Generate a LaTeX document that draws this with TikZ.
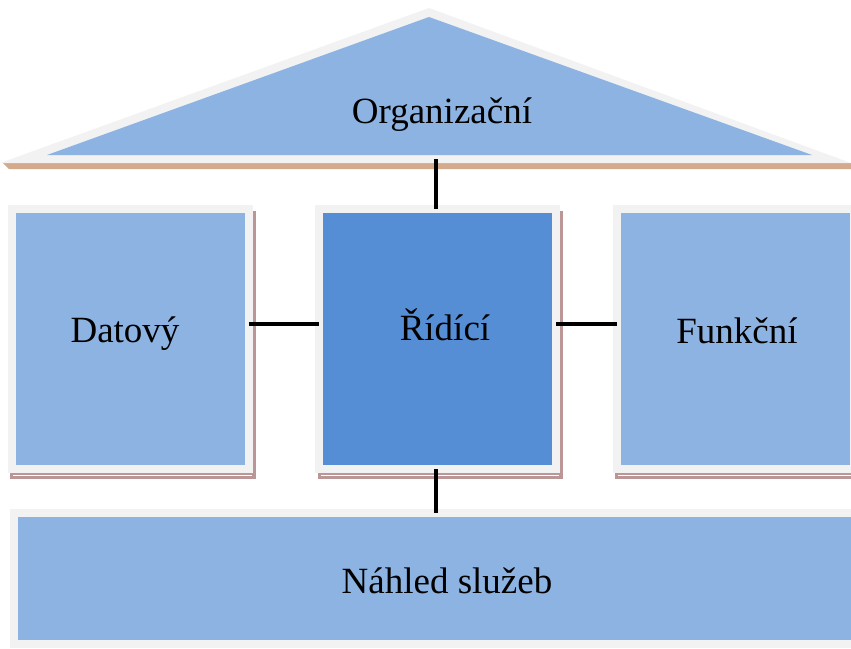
\documentclass[tikz,border=0pt]{standalone}
\usepackage{fontspec}
\setmainfont{Liberation Serif}
\definecolor{paleBlue}{HTML}{8DB3E2}
\definecolor{midBlue}{HTML}{558ED5}
\definecolor{frameGray}{HTML}{F2F2F2}
\definecolor{roofShadow}{HTML}{D3AA8C}
\definecolor{boxShadow}{HTML}{BA9696}
\tikzset{
  block/.style={rectangle, fill=paleBlue, draw=frameGray, line width=8pt,
    inner sep=0pt, outer sep=0pt},
  core/.style={block, fill=midBlue},
  lbl/.style={anchor=base, inner sep=0pt, font=\fontsize{37}{44}\selectfont},
  link/.style={draw=black, line width=4pt},
}
\begin{document}
\begin{tikzpicture}[x=1pt,y=-1pt]
\useasboundingbox (0,0) rectangle (851,648);

% roof: shadow band, light frame and blue triangle
\fill[roofShadow] (3,163) -- (851,163) -- (851,169) -- (9,169) -- cycle;
\fill[frameGray] (0,163) -- (429,8) -- (851,163) -- cycle;
\fill[paleBlue] (47,155) -- (429,17) -- (812,155) -- cycle;
\coordinate (roofbase) at (436,159);
\node[lbl] (torg) at (442,123) {Organizační};

% drop shadows behind the three pillars
\fill[boxShadow] (10,211) rectangle (256,479);
\fill[boxShadow] (318,211) rectangle (563,479);
\fill[boxShadow] (615,211) rectangle (855,479);
\draw[white, line width=0.6pt] (13,475.5) -- (252,475.5);
\draw[white, line width=0.6pt] (321,475.5) -- (559,475.5);
\draw[white, line width=0.6pt] (618,475.5) -- (855,475.5);

% pillars
\node[block, minimum width=237pt, minimum height=260pt] (datovy) at (130,339) {};
\node[core, minimum width=237pt, minimum height=260pt] (ridici) at (437.5,339) {};
\node[block, minimum width=237pt, minimum height=260pt] (funkcni) at (735,339) {};

% base
\node[block, minimum width=846pt, minimum height=131pt] (nahled) at (436.5,578.5) {};

\node[lbl] (tdat) at (125,342) {Datový};
\node[lbl] (trid) at (445,340) {Řídící};
\node[lbl] (tfun) at (737,343) {Funkční};
\node[lbl] (tnah) at (447,593) {Náhled služeb};

% connectors
\draw[link] (roofbase) -- (roofbase |- ridici.north);
\draw[link] ([yshift=15pt]datovy.east) -- ([yshift=15pt]ridici.west);
\draw[link] ([yshift=15pt]ridici.east) -- ([yshift=15pt]funkcni.west);
\draw[link] (ridici.south -| roofbase) -- (nahled.north -| roofbase);
\end{tikzpicture}
\end{document}
